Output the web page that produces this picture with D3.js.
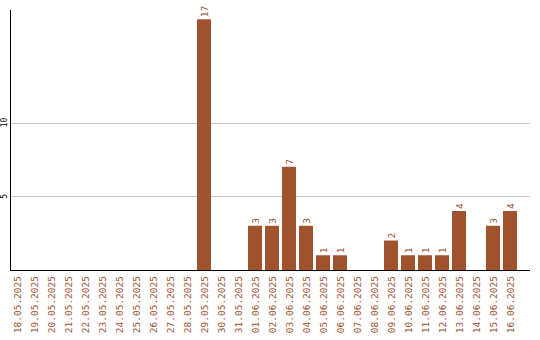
<!DOCTYPE html>
<html>
<head>
<meta charset="utf-8">
<script src="https://cdn.jsdelivr.net/npm/d3@7"></script>
<style>
  body { margin: 0; background: #fff; }
  svg text { font-family: "DejaVu Sans Mono", monospace; }
</style>
</head>
<body>
<div id="chart"></div>
<script>
// Daily counts
const dates = ['18.05.2025', '19.05.2025', '20.05.2025', '21.05.2025', '22.05.2025', '23.05.2025',
    '24.05.2025', '25.05.2025', '26.05.2025', '27.05.2025', '28.05.2025', '29.05.2025',
    '30.05.2025', '31.05.2025', '01.06.2025', '02.06.2025', '03.06.2025', '04.06.2025',
    '05.06.2025', '06.06.2025', '07.06.2025', '08.06.2025', '09.06.2025', '10.06.2025',
    '11.06.2025', '12.06.2025', '13.06.2025', '14.06.2025', '15.06.2025', '16.06.2025'];
const counts = [0, 0, 0, 0, 0, 0, 0, 0, 0, 0, 0, 17, 0, 0, 3, 3, 7, 3, 1, 1, 0, 0, 2, 1, 1, 1, 4, 0, 3, 4];
const yTicks = [5, 10];

const width = 540, height = 340;
const color = '#a0522d';

const svg = d3.select('#chart')
    .append('svg')
    .attr('width', width)
    .attr('height', height);

const x = d3.scaleBand()
    .domain(dates)
    .range([10, 517])
    .paddingInner(3 / 17)
    .paddingOuter(0);

const y = d3.scaleLinear()
    .domain([0, 17.63])
    .range([270, 10]);

// gridlines
svg.selectAll('.grid')
    .data(yTicks)
    .enter()
    .append('line')
    .attr('x1', 10).attr('x2', 530)
    .attr('y1', d => Math.round(y(d)) + 0.5)
    .attr('y2', d => Math.round(y(d)) + 0.5)
    .attr('stroke', '#c8c8c8')
    .attr('stroke-width', 1);

// y tick labels
svg.selectAll('.ytick')
    .data(yTicks)
    .enter()
    .append('text')
    .attr('transform', d => `translate(7, ${y(d)}) rotate(-90)`)
    .attr('text-anchor', 'middle')
    .attr('font-size', '8px')
    .attr('fill', '#000')
    .text(d => d);

// bars
const rows = dates.map((d, i) => ({ date: d, value: counts[i] })).filter(d => d.value > 0);

svg.selectAll('.bar')
    .data(rows)
    .enter()
    .append('rect')
    .attr('x', d => x(d.date))
    .attr('y', d => y(d.value))
    .attr('width', x.bandwidth())
    .attr('height', d => y(0) - y(d.value))
    .attr('fill', color);

// value labels
svg.selectAll('.val')
    .data(rows)
    .enter()
    .append('text')
    .attr('transform', d => `translate(${x(d.date) + x.bandwidth() / 2 + 3.5}, ${y(d.value) - 2}) rotate(-90)`)
    .attr('text-anchor', 'start')
    .attr('font-size', '9.5px')
    .attr('fill', color)
    .text(d => d.value);

// x labels
svg.selectAll('.xlab')
    .data(dates)
    .enter()
    .append('text')
    .attr('transform', d => `translate(${x(d) + x.bandwidth() / 2 + 3.5}, 276) rotate(-90)`)
    .attr('text-anchor', 'end')
    .attr('font-size', '9.5px')
    .attr('fill', color)
    .text(d => d);

// axes
svg.append('line')
    .attr('x1', 10.5).attr('x2', 10.5)
    .attr('y1', 10).attr('y2', 270.5)
    .attr('stroke', '#000');
svg.append('line')
    .attr('x1', 10).attr('x2', 530)
    .attr('y1', 270.5).attr('y2', 270.5)
    .attr('stroke', '#000');
</script>
</body>
</html>
